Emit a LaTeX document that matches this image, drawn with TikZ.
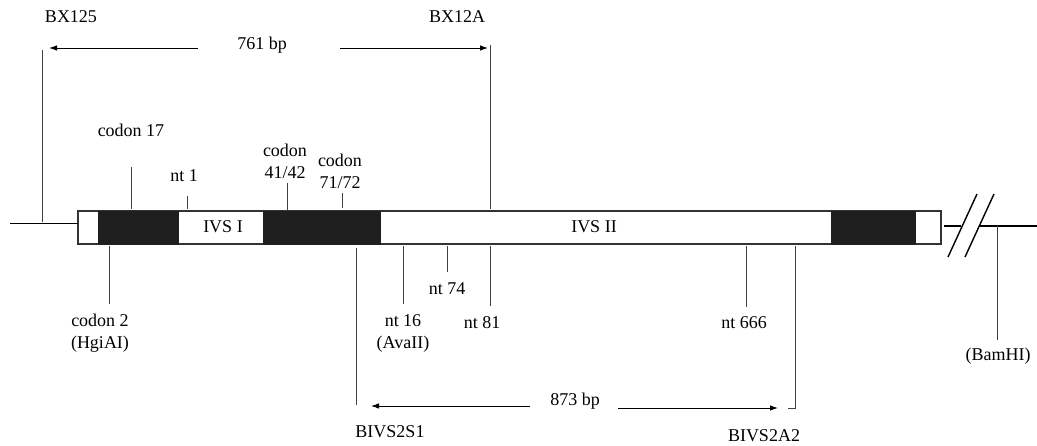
\documentclass[tikz,border=0pt]{standalone}
\usepackage{fontspec}
\setmainfont{Liberation Serif}
\usetikzlibrary{arrows.meta, positioning}

\begin{document}
\begin{tikzpicture}[x=1pt, y=-1pt, >={Latex[length=8pt,width=5.5pt]},
    lbl/.style={font=\fontsize{18}{22}\selectfont, inner sep=0pt, align=center},
    tick/.style={line width=0.9pt, draw=black!75},
    exon/.style={fill=black!88, draw=black!88}]

    \useasboundingbox (0,0) rectangle (1037,446);

    % =================================================================
    % 1. GENE BOX, EXONS AND FLANKING DNA
    % =================================================================
    \coordinate (BoxNW) at (78,211);
    \coordinate (BoxSE) at (941,244);
    \coordinate (FlankL) at (10,224);
    \coordinate (FlankLEnd) at (78,224);
    \coordinate (FlankR) at (944,226);
    \coordinate (FlankREnd) at (961,226);
    \coordinate (FarR) at (979,226);
    \coordinate (FarREnd) at (1037,226);

    \draw[line width=1.1pt, draw=black!80] (BoxNW) rectangle (BoxSE);
    \fill[exon] (98,211) rectangle (178,244);
    \fill[exon] (263,211) rectangle (380,244);
    \fill[exon] (831,211) rectangle (915,244);

    \draw[line width=1pt] (FlankL) -- (FlankLEnd);
    \draw[line width=1.2pt] (FlankR) -- (FlankREnd);
    \draw[line width=1.2pt] (FarR) -- (FarREnd);

    % break marks
    \draw[line width=1.4pt] (948,257) -- (977,194);
    \draw[line width=1.4pt] (965,257) -- (994,194);

    \node[lbl] (ivsI) at (223,227) {IVS I};
    \node[lbl] (ivsII) at (594,227) {IVS II};

    % =================================================================
    % 2. SITES ABOVE THE GENE
    % =================================================================
    \node[lbl] (bx125) at (71,17) {BX125};
    \node[lbl] (bx12a) at (457,17) {BX12A};
    \node[lbl] (c17) at (131,130) {codon 17};
    \node[lbl] (nt1) at (184,176) {nt 1};
    \node[lbl] (c41) at (285,161) {codon\\41/42};
    \node[lbl] (c71) at (340,171) {codon\\71/72};

    \draw[tick] (42,50) -- (42,222);
    \draw[tick] (490,45) -- (490,209);
    \draw[tick] (131,167) -- (131,209);
    \draw[tick] (187,196) -- (187,209);
    \draw[tick] (287,183) -- (287,211);
    \draw[tick] (342,193) -- (342,208);

    % 761 bp product
    \node[lbl] (p761) at (262,45) {761 bp};
    \coordinate (p761L) at (49,48);
    \coordinate (p761R) at (488,48);
    \draw[->, line width=0.9pt] (198,48) -- (p761L);
    \draw[->, line width=0.9pt] (340,48) -- (p761R);

    % =================================================================
    % 3. SITES BELOW THE GENE
    % =================================================================
    \node[lbl] (c2) at (100,333) {codon 2\\(HgiAI)};
    \node[lbl] (nt16) at (403,333) {nt 16\\(AvaII)};
    \node[lbl] (nt74) at (447,289) {nt 74};
    \node[lbl] (nt81) at (482,323) {nt 81};
    \node[lbl] (nt666) at (744,323) {nt 666};
    \node[lbl] (bamhi) at (998,356) {(BamHI)};
    \node[lbl] (s1) at (390,432) {BIVS2S1};
    \node[lbl] (a2) at (764,436) {BIVS2A2};

    \draw[tick] (109,246) -- (109,304);
    \draw[tick] (356,248) -- (356,405);
    \draw[tick] (403,246) -- (403,304);
    \draw[tick] (447,246) -- (447,272);
    \draw[tick] (490,246) -- (490,306);
    \draw[tick] (746,246) -- (746,307);
    \draw[tick] (795,246) -- (795,408) -- (788,408);
    \draw[tick] (997,226) -- (997,340);

    % 873 bp product
    \node[lbl] (p873) at (575,401) {873 bp};
    \coordinate (p873L) at (371,406);
    \coordinate (p873R) at (778,408);
    \draw[->, line width=0.9pt] (530,406) -- (p873L);
    \draw[->, line width=0.9pt] (618,408) -- (p873R);

\end{tikzpicture}
\end{document}
